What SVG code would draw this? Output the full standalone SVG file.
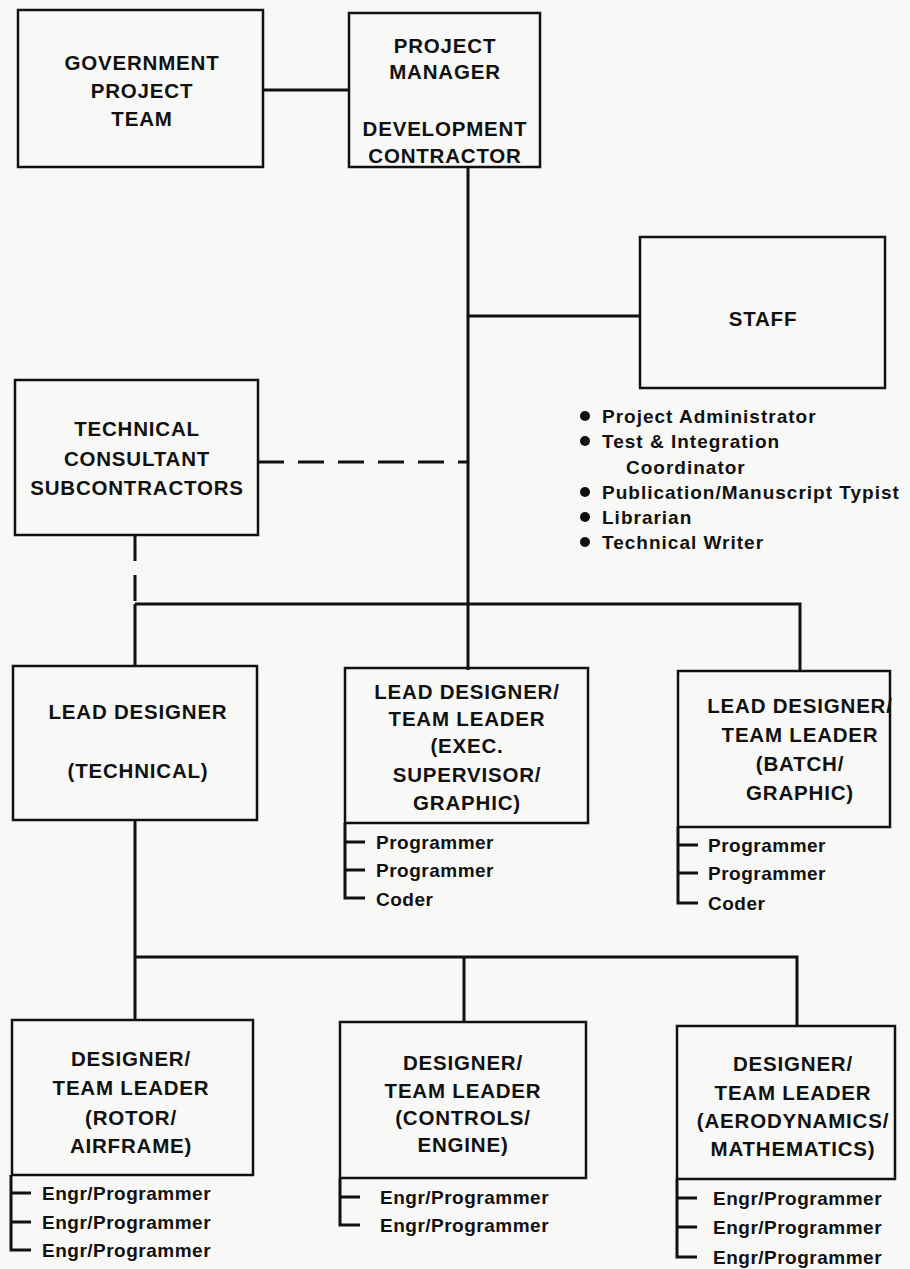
<svg xmlns="http://www.w3.org/2000/svg" width="910" height="1269" viewBox="0 0 910 1269">
<style>
.box{fill:none;stroke:#111;stroke-width:2.5}
.ln{fill:none;stroke:#111;stroke-width:3}
.dash{fill:none;stroke:#111;stroke-width:3;stroke-dasharray:26 14}
.t{font-family:"Liberation Sans",Arial,sans-serif;font-weight:bold;font-size:20.5px;letter-spacing:0.8px;fill:#111;text-anchor:middle;dominant-baseline:central}
.s{font-family:"Liberation Sans",Arial,sans-serif;font-weight:bold;font-size:19px;letter-spacing:0.5px;fill:#111;dominant-baseline:central}
.st{letter-spacing:1px}
</style>
<rect width="910" height="1269" fill="#f8f8f6"/>
<g id="connectors">
<path class="ln" d="M263 90H349"/>
<path class="ln" d="M468 167V670"/>
<path class="ln" d="M468 316H640"/>
<path class="dash" d="M258 462H468"/>
<path class="dash" d="M135 535V604"/>
<path class="ln" d="M135 604H800V671"/>
<path class="ln" d="M135 604V666"/>
<path class="ln" d="M135 820V1020"/>
<path class="ln" d="M135 957H797V1026"/>
<path class="ln" d="M464 957V1022"/>
</g>
<g id="gov">
<rect class="box" x="18" y="10" width="245" height="157"/>
<text class="t" x="142" y="62">GOVERNMENT</text>
<text class="t" x="142" y="90">PROJECT</text>
<text class="t" x="142" y="118">TEAM</text>
</g>
<g id="pm">
<rect class="box" x="349" y="13" width="191" height="154"/>
<text class="t" x="445" y="45">PROJECT</text>
<text class="t" x="445" y="71">MANAGER</text>
<text class="t" x="445" y="128">DEVELOPMENT</text>
<text class="t" x="445" y="155">CONTRACTOR</text>
</g>
<g id="staff">
<rect class="box" x="640" y="237" width="245" height="151"/>
<text class="t" x="763" y="318">STAFF</text>
<circle cx="585" cy="416" r="5" fill="#111"/>
<text class="s st" x="602" y="416">Project Administrator</text>
<circle cx="585" cy="441" r="5" fill="#111"/>
<text class="s st" x="602" y="441">Test &amp; Integration</text>
<text class="s st" x="626" y="467">Coordinator</text>
<circle cx="585" cy="492" r="5" fill="#111"/>
<text class="s st" x="602" y="492">Publication/Manuscript Typist</text>
<circle cx="585" cy="517" r="5" fill="#111"/>
<text class="s st" x="602" y="517">Librarian</text>
<circle cx="585" cy="542" r="5" fill="#111"/>
<text class="s st" x="602" y="542">Technical Writer</text>
</g>
<g id="tech">
<rect class="box" x="15" y="380" width="243" height="155"/>
<text class="t" x="137" y="428">TECHNICAL</text>
<text class="t" x="137" y="458">CONSULTANT</text>
<text class="t" x="137" y="487">SUBCONTRACTORS</text>
</g>
<g id="lead-tech">
<rect class="box" x="13" y="666" width="244" height="154"/>
<text class="t" x="138" y="711">LEAD DESIGNER</text>
<text class="t" x="138" y="770">(TECHNICAL)</text>
</g>
<g id="lead-exec">
<rect class="box" x="345" y="668" width="243" height="155"/>
<text class="t" x="467" y="691">LEAD DESIGNER/</text>
<text class="t" x="467" y="718">TEAM LEADER</text>
<text class="t" x="467" y="745">(EXEC.</text>
<text class="t" x="467" y="774">SUPERVISOR/</text>
<text class="t" x="467" y="802">GRAPHIC)</text>
<path class="ln" d="M345 823V898H365M345 842H365M345 870H365"/>
<text class="s" x="376" y="842">Programmer</text>
<text class="s" x="376" y="870">Programmer</text>
<text class="s" x="376" y="899">Coder</text>
</g>
<g id="lead-batch">
<rect class="box" x="678" y="671" width="212" height="156"/>
<text class="t" x="800" y="705">LEAD DESIGNER/</text>
<text class="t" x="800" y="734">TEAM LEADER</text>
<text class="t" x="800" y="763">(BATCH/</text>
<text class="t" x="800" y="792">GRAPHIC)</text>
<path class="ln" d="M678 827V903H698M678 845H698M678 873H698"/>
<text class="s" x="708" y="845">Programmer</text>
<text class="s" x="708" y="873">Programmer</text>
<text class="s" x="708" y="903">Coder</text>
</g>
<g id="rotor">
<rect class="box" x="12" y="1020" width="241" height="155"/>
<text class="t" x="131" y="1058">DESIGNER/</text>
<text class="t" x="131" y="1087">TEAM LEADER</text>
<text class="t" x="131" y="1117">(ROTOR/</text>
<text class="t" x="131" y="1145">AIRFRAME)</text>
<path class="ln" d="M11 1175V1250H31M11 1193H31M11 1222H31"/>
<text class="s" x="42" y="1193">Engr/Programmer</text>
<text class="s" x="42" y="1222">Engr/Programmer</text>
<text class="s" x="42" y="1250">Engr/Programmer</text>
</g>
<g id="controls">
<rect class="box" x="340" y="1022" width="246" height="156"/>
<text class="t" x="463" y="1062">DESIGNER/</text>
<text class="t" x="463" y="1090">TEAM LEADER</text>
<text class="t" x="463" y="1117">(CONTROLS/</text>
<text class="t" x="463" y="1144">ENGINE)</text>
<path class="ln" d="M340 1178V1225H360M340 1197H360"/>
<text class="s" x="380" y="1197">Engr/Programmer</text>
<text class="s" x="380" y="1225">Engr/Programmer</text>
</g>
<g id="aero">
<rect class="box" x="677" y="1026" width="218" height="153"/>
<text class="t" x="793" y="1063">DESIGNER/</text>
<text class="t" x="793" y="1092">TEAM LEADER</text>
<text class="t" x="793" y="1120">(AERODYNAMICS/</text>
<text class="t" x="793" y="1148">MATHEMATICS)</text>
<path class="ln" d="M677 1179V1257H697M677 1198H697M677 1227H697"/>
<text class="s" x="713" y="1198">Engr/Programmer</text>
<text class="s" x="713" y="1227">Engr/Programmer</text>
<text class="s" x="713" y="1257">Engr/Programmer</text>
</g>
</svg>
